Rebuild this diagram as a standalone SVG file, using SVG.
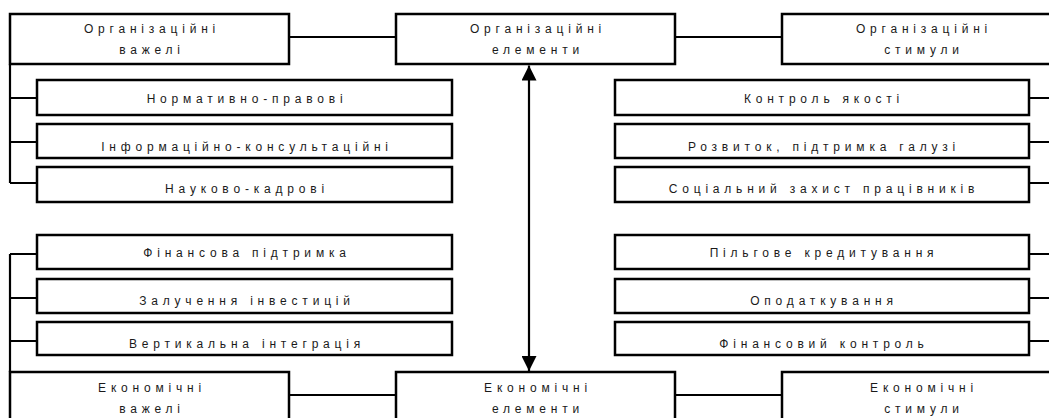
<svg xmlns="http://www.w3.org/2000/svg" width="1049" height="418" viewBox="0 0 1049 418">
<style>
.box{fill:#fff;stroke:#000;stroke-width:2.5}
.ln{fill:none;stroke:#000;stroke-width:2.2}
text{font-family:"Liberation Sans",Arial,sans-serif;font-size:12px;fill:#1a1a1a;letter-spacing:4.8px;text-anchor:middle}
</style>
<defs>
<marker id="ah" viewBox="0 0 15 15" refX="15" refY="7.5" markerWidth="15" markerHeight="15" markerUnits="userSpaceOnUse" orient="auto-start-reverse">
<path d="M0,0 L15,7.5 L0,15 z" fill="#000"/>
</marker>
</defs>
<g id="connectors">
<path class="ln" d="M289,37 H396 M675,37 H782 M289,395 H396 M675,395 H782"/>
<path class="ln" d="M10,64 V183 M10,98 H37 M10,142 H37 M10,183 H37"/>
<path class="ln" d="M10,254 V372 M10,254 H37 M10,298 H37 M10,341 H37"/>
<path class="ln" d="M1029,98 H1049 M1029,142 H1049 M1029,183 H1049 M1029,254 H1049 M1029,298 H1049 M1029,341 H1049"/>
<line class="ln" x1="529" y1="65.5" x2="529" y2="371" marker-start="url(#ah)" marker-end="url(#ah)"/>
</g>
<g id="org-levers"><rect class="box" x="10" y="14" width="279" height="50"/><text x="152" y="33">Організаційні</text><text x="152" y="54">важелі</text></g>
<g id="org-elements"><rect class="box" x="396" y="14" width="279" height="50"/><text x="538" y="33">Організаційні</text><text x="538" y="54">елементи</text></g>
<g id="org-stimuli"><rect class="box" x="782" y="14" width="279" height="50"/><text x="924" y="33">Організаційні</text><text x="924" y="54">стимули</text></g>
<g id="n1"><rect class="box" x="37" y="80" width="415" height="35"/><text x="247" y="103">Нормативно-правові</text></g>
<g id="n2"><rect class="box" x="37" y="124" width="415" height="34"/><text x="247" y="151">Інформаційно-консультаційні</text></g>
<g id="n3"><rect class="box" x="37" y="167" width="415" height="35"/><text x="247" y="193">Науково-кадрові</text></g>
<g id="n4"><rect class="box" x="37" y="235" width="415" height="34"/><text x="247" y="257">Фінансова підтримка</text></g>
<g id="n5"><rect class="box" x="37" y="279" width="415" height="34"/><text x="247" y="305">Залучення інвестицій</text></g>
<g id="n6"><rect class="box" x="37" y="322" width="415" height="33"/><text x="247" y="348">Вертикальна інтеграція</text></g>
<g id="r1"><rect class="box" x="615" y="80" width="414" height="35"/><text x="824" y="103">Контроль якості</text></g>
<g id="r2"><rect class="box" x="615" y="124" width="414" height="34"/><text x="824" y="151">Розвиток, підтримка галузі</text></g>
<g id="r3"><rect class="box" x="615" y="167" width="414" height="35"/><text x="824" y="193">Соціальний захист працівників</text></g>
<g id="r4"><rect class="box" x="615" y="235" width="414" height="34"/><text x="824" y="257">Пільгове кредитування</text></g>
<g id="r5"><rect class="box" x="615" y="279" width="414" height="34"/><text x="824" y="305">Оподаткування</text></g>
<g id="r6"><rect class="box" x="615" y="322" width="414" height="33"/><text x="824" y="348">Фінансовий контроль</text></g>
<g id="econ-levers"><rect class="box" x="10" y="372" width="279" height="50"/><text x="152" y="392">Економічні</text><text x="152" y="413">важелі</text></g>
<g id="econ-elements"><rect class="box" x="396" y="372" width="279" height="50"/><text x="538" y="392">Економічні</text><text x="538" y="413">елементи</text></g>
<g id="econ-stimuli"><rect class="box" x="782" y="372" width="279" height="50"/><text x="924" y="392">Економічні</text><text x="924" y="413">стимули</text></g>
</svg>
